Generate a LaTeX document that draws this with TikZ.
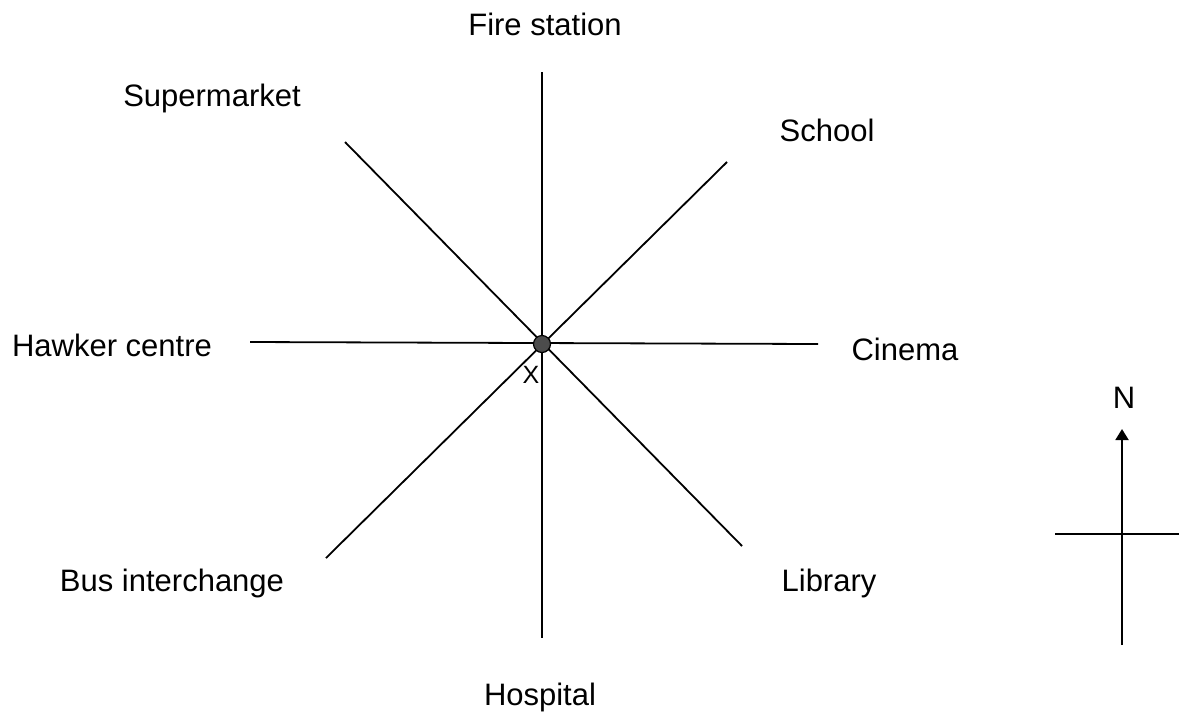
\documentclass[tikz,border=0pt]{standalone}
\usepackage{fontspec}
\setmainfont{Liberation Sans}
\usetikzlibrary{arrows.meta}
\begin{document}
\begin{tikzpicture}[x=1pt,y=-1pt,
  lbl/.style={anchor=base,inner sep=0pt,font=\fontsize{31}{35}\selectfont},
  ray/.style={line width=1.8pt,black}]
\useasboundingbox (0,0) rectangle (1182,716);
% endpoints
\coordinate (O) at (542,344);
\coordinate (Nn) at (542,72);
\coordinate (Ss) at (542,638);
\coordinate (Ww) at (250,342);
\coordinate (Ee) at (818,344);
\coordinate (NW) at (345,142);
\coordinate (SE) at (742,546);
\coordinate (NE) at (727,162);
\coordinate (SW) at (326,558);
\draw[ray] (Nn) -- (Ss);
\draw[ray] (Ww) -- (Ee);
\draw[ray] (NW) -- (SE);
\draw[ray] (NE) -- (SW);
\node[circle,fill=black!70,draw=black,line width=1.2pt,minimum size=17pt,inner sep=0pt] (dot) at (O) {};
% labels
\node[lbl] (fire) at (545,35) {Fire station};
\node[lbl] (super) at (212,106) {Supermarket};
\node[lbl] (school) at (827,141) {School};
\node[lbl] (hawker) at (112,356) {Hawker centre};
\node[lbl] (cinema) at (905,360) {Cinema};
\node[lbl] (bus) at (172,591) {Bus interchange};
\node[lbl] (library) at (829,591) {Library};
\node[lbl] (hospital) at (540,705) {Hospital};
\node[lbl,font=\fontsize{25}{29}\selectfont] (x) at (531,383) {X};
% compass
\node[lbl] (north) at (1124,408) {N};
\coordinate (cb) at (1122,645);
\coordinate (ct) at (1122,429);
\coordinate (cl) at (1055,534);
\coordinate (cr) at (1179,534);
\draw[ray,-{Triangle[length=11pt,width=13pt]}] (cb) -- (ct);
\draw[ray] (cl) -- (cr);
\end{tikzpicture}
\end{document}
